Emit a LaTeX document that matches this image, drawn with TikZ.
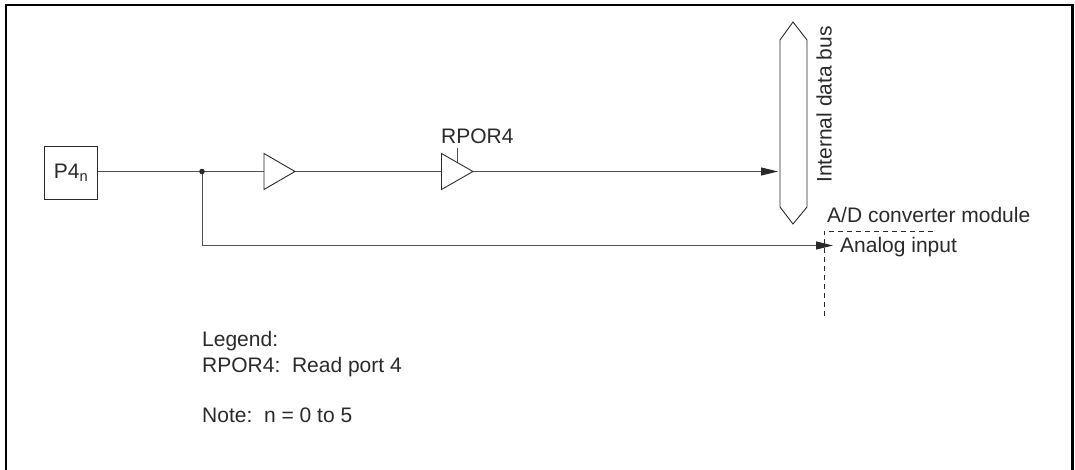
\documentclass[tikz,border=0pt]{standalone}
\usepackage{fontspec}
\setmainfont{Liberation Sans}
\usetikzlibrary{arrows.meta,positioning,calc}
\definecolor{pfline}{HTML}{2A2A2A}
\definecolor{pfwire}{HTML}{505050}
\tikzset{
  sigline/.style={pfwire,line width=1pt},
  sigarrow/.style={sigline,-{Triangle[length=17pt,width=8pt,color=pfline]}},
  buffer/.style={pfline,line width=.9pt,fill=white},
  pflabel/.style={inner sep=0pt,text=pfline,font=\fontsize{21}{25}\selectfont},
  modedge/.style={pfline,line width=.8pt,dash pattern=on 5pt off 4pt}
}
\begin{document}
\begin{tikzpicture}[x=1pt,y=-1pt]
  \useasboundingbox (0,0) rectangle (1075,470);
  \draw[black,line width=2.2pt] (6,470) -- (6,5) -- (1072.5,5) -- (1072.5,475);
  % pin and branch point
  \node[draw=pfline,line width=.9pt,minimum size=53pt,inner sep=0pt,text=pfline,font=\fontsize{21}{25}\selectfont] (pin) at (71,172.5) {P4\textsubscript{n}};
  \coordinate (junc) at (202,171.5);
  \coordinate (buf1in) at (264,171.5);
  \coordinate (buf1out) at (295,171.5);
  \coordinate (buf2in) at (441.5,171.5);
  \coordinate (buf2out) at (473,171.5);
  \coordinate (turn) at (202,245.5);
  \coordinate (businput) at (778,171.5);
  \coordinate (adinput) at (833,245.5);
  \coordinate (ctl) at (457,148);
  \coordinate (ctlend) at (457,163);
  \coordinate (modtop) at (824,231);
  % data bus
  \draw[buffer] (780,40) -- (793,22) -- (807,40) -- (807,207) -- (793,224) -- (780,207) -- cycle;
  \node[pflabel,rotate=90,anchor=base west] (busl) at (831.5,183) {Internal data bus};
  % wires
  \draw[sigline] (pin.east |- junc) -- (junc) -- (buf1in);
  \draw[sigline] (buf1out) -- (buf2in);
  \draw[sigarrow] (buf2out) -- (businput);
  \draw[sigarrow] (junc) -- (turn) -- (adinput);
  \draw[sigline] (ctl) -- (ctlend);
  \fill[pfline] (junc) circle (2.8pt);
  \foreach \a/\b in {buf1in/buf1out,buf2in/buf2out}{
    \draw[buffer] ($(\a)+(0,-18)$) -- (\b) -- ($(\a)+(0,18)$) -- cycle;
  }
  % converter edge
  \draw[modedge] (933,231) -- (modtop) -- (824,318);
  % labels
  \node[pflabel,anchor=base west] (rpor) at (441,143.5) {RPOR4};
  \node[pflabel,anchor=base west] (adm) at (827,223) {A/D converter module};
  \node[pflabel,anchor=base west] (adi) at (840,252) {Analog input};
  \node[pflabel,anchor=base west] (leg) at (202,346) {Legend:};
  \node[pflabel,anchor=base west] (legr) at (202,372) {RPOR4:\ \ Read port 4};
  \node[pflabel,anchor=base west] (note) at (202,422) {Note:\ \ n = 0 to 5};
\end{tikzpicture}
\end{document}
